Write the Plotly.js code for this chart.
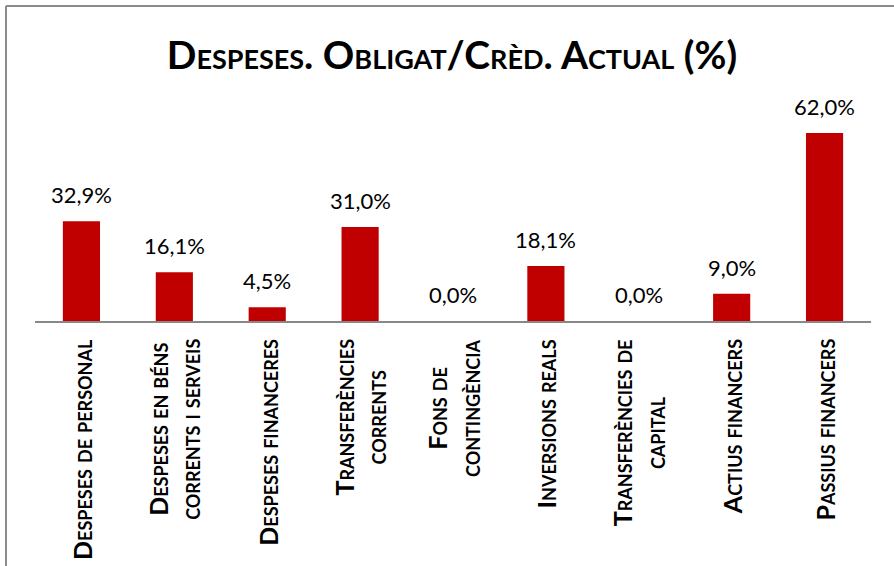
<!DOCTYPE html>
<html>
<head>
<meta charset="utf-8">
<script src="https://cdn.plot.ly/plotly-3.0.1.min.js"></script>
<style>
  html, body { margin: 0; padding: 0; background: #fff; }
  #chart { width: 894px; height: 566px; }
</style>
</head>
<body>
<div id="chart"></div>
<script>
const categories = [
  "Despeses de personal",
  "Despeses en béns<br>corrents i serveis",
  "Despeses financeres",
  "Transferències<br>corrents",
  "Fons de<br>contingència",
  "Inversions reals",
  "Transferències de<br>capital",
  "Actius financers",
  "Passius financers"
];
const values = [32.9, 16.1, 4.5, 31.0, 0.0, 18.1, 0.0, 9.0, 62.0];
const valueLabels = ["32,9%", "16,1%", "4,5%", "31,0%", "0,0%", "18,1%", "0,0%", "9,0%", "62,0%"];
const chartTitle = "Despeses. Obligat/Crèd. Actual (%)";

const FONT = "Lato, 'Open Sans', sans-serif";
const W = 894, H = 566;
const mL = 35, mR = 23, mT = 100, mB = 245;
const pw = W - mL - mR, ph = H - mT - mB;
const px = v => (v - mL) / pw;          // page x -> paper x
const py = v => (H - mB - v) / ph;      // page y -> paper y

const trace = {
  type: "bar",
  x: categories,
  y: values,
  marker: { color: "#C00000" },
  hoverinfo: "skip"
};

const annotations = [];
categories.forEach((c, i) => {
  annotations.push({
    x: c, y: values[i], xref: "x", yref: "y",
    text: valueLabels[i], showarrow: false,
    yanchor: "bottom", xanchor: "center", yshift: 11,
    font: { family: FONT, size: 22, color: "#000" }
  });
  annotations.push({
    x: c, y: 0, xref: "x", yref: "paper",
    text: c, showarrow: false, textangle: -90,
    yanchor: "top", xanchor: "center", yshift: -16, align: "center",
    font: { family: FONT, size: 25, color: "#000", weight: 700, variant: "small-caps" }
  });
});

const layout = {
  width: W, height: H,
  margin: { l: mL, r: mR, t: mT, b: mB, pad: 0 },
  paper_bgcolor: "#fff", plot_bgcolor: "#fff",
  showlegend: false,
  bargap: 0.6,
  title: {
    text: chartTitle,
    x: 452 / W, xanchor: "center",
    y: 1 - 55 / H, yanchor: "middle",
    font: { family: FONT, size: 39, color: "#000", weight: 700, variant: "small-caps" }
  },
  xaxis: {
    type: "category",
    showticklabels: false, ticks: "",
    showline: true, linecolor: "#888888", linewidth: 2,
    showgrid: false, zeroline: false, fixedrange: true
  },
  yaxis: {
    range: [0, 62 * ph / 188],
    visible: false, showgrid: false, zeroline: false, fixedrange: true
  },
  annotations: annotations,
  shapes: [
    { type: "line", xref: "paper", yref: "paper",
      x0: px(6), x1: px(6), y0: py(6), y1: py(600),
      line: { color: "#8c8c8c", width: 2 } },
    { type: "line", xref: "paper", yref: "paper",
      x0: px(6), x1: px(900), y0: py(6), y1: py(6),
      line: { color: "#8c8c8c", width: 2 } }
  ]
};

Plotly.newPlot("chart", [trace], layout, { displayModeBar: false, staticPlot: true });
</script>
</body>
</html>
